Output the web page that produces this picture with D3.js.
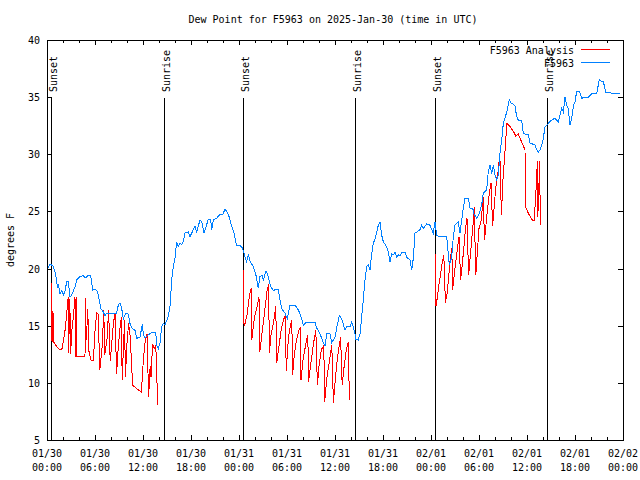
<!DOCTYPE html>
<html>
<head>
<meta charset="utf-8">
<script src="https://cdn.jsdelivr.net/npm/d3@7"></script>
<style>
  body { margin: 0; background: #fff; }
  svg { display: block; }
  text { font-family: "DejaVu Sans Mono", "Liberation Mono", monospace; font-size: 10px; fill: #000; }
</style>
</head>
<body>
<svg id="chart" width="640" height="480"></svg>
<script>
// ---- DATA ----
const titleText = "Dew Point for F5963 on 2025-Jan-30 (time in UTC)";
const yLabel = "degrees F";
const yTicks = [5, 10, 15, 20, 25, 30, 35, 40];
// hours since 01/30 00:00 UTC
const xMajorTicks = [0, 6, 12, 18, 24, 30, 36, 42, 48, 54, 60, 66, 72];
const xDateLabels = ["01/30","01/30","01/30","01/30","01/31","01/31","01/31","01/31","02/01","02/01","02/01","02/01","02/02"];
const xTimeLabels = ["00:00","06:00","12:00","18:00","00:00","06:00","12:00","18:00","00:00","06:00","12:00","18:00","00:00"];
const eventHours = [0.5, 14.7, 24.5, 38.5, 48.5, 62.5];
const eventLabels = ["Sunset", "Sunrise", "Sunset", "Sunrise", "Sunset", "Sunrise"];
const seriesNames = ["F5963 Analysis", "F5963"];

// observed dew point (blue): [hour, degF]
const observed = [
  [0.16,20.1],[0.375,20.4],[0.79,20.2],[1.0,19.7],[1.21,19.0],[1.29,18.3],[1.41,18.6],[1.625,17.8],[1.84,18.1],
  [2.04,17.7],[2.25,18.0],[2.46,18.85],[2.66,18.85],[2.875,17.5],[3.09,17.7],[3.5,18.4],[3.71,19.0],[4.125,19.3],
  [4.54,19.4],[4.75,19.15],[5.16,19.4],[5.46,19.4],[5.71,18.1],[6.0,18.2],[6.29,18.0],[6.54,17.25],[6.71,16.5],
  [6.96,16.3],[7.25,15.9],[7.46,16.1],[8.71,16.1],[8.91,16.8],[9.125,17.0],[9.34,16.5],[9.54,15.6],[9.875,16.1],
  [10.16,16.0],[10.375,15.2],[10.59,14.8],[11.0,14.6],[11.21,13.9],[11.625,14.0],[11.91,15.1],[12.04,14.3],
  [12.25,13.9],[12.66,14.2],[13.09,14.4],[13.59,14.4],[13.71,13.3],[13.91,13.0],[14.125,13.5],[14.34,14.9],
  [14.54,15.2],[14.75,15.1],[15.16,15.8],[15.375,16.7],[15.59,19.0],[15.79,20.2],[16.0,20.9],[16.21,22.35],
  [16.41,21.9],[16.625,22.2],[16.84,22.1],[17.04,22.35],[17.25,23.1],[17.66,23.2],[17.875,22.8],[18.29,23.4],
  [18.5,23.7],[18.71,23.2],[19.125,24.25],[19.34,24.1],[19.625,23.1],[20.16,24.3],[20.46,24.25],[20.59,23.4],
  [20.79,24.25],[21.21,24.4],[21.625,24.75],[21.96,24.7],[22.25,25.2],[22.46,25.0],[22.79,24.5],[23.09,23.7],
  [23.375,23.1],[23.71,22.0],[24.125,22.0],[24.34,21.9],[24.54,21.6],[24.75,21.0],[24.96,20.6],[25.16,21.2],
  [25.46,20.5],[25.79,20.2],[26.125,19.4],[26.41,18.3],[26.625,19.3],[26.91,19.4],[27.04,19.0],[27.375,19.8],
  [27.66,19.3],[27.96,18.4],[28.29,18.1],[28.91,18.2],[29.125,17.25],[29.34,16.5],[29.75,16.1],[30.04,15.6],
  [30.375,16.8],[31.0,16.8],[31.41,16.4],[31.71,15.9],[32.04,15.05],[32.375,15.3],[33.5,15.3],[33.71,14.8],
  [34.125,14.3],[34.54,13.5],[34.75,13.2],[34.96,14.3],[35.375,14.3],[35.59,13.5],[36.0,14.0],[36.21,14.8],
  [36.54,15.9],[36.84,15.6],[37.25,14.6],[37.46,14.9],[37.875,14.9],[38.09,15.3],[38.29,14.9],[38.5,14.3],
  [38.625,13.8],[38.91,13.75],[39.125,14.3],[39.34,15.8],[39.54,17.3],[39.75,19.0],[39.96,20.2],[40.16,20.3],
  [40.375,19.9],[40.59,21.3],[40.79,22.2],[41.0,22.6],[41.21,23.1],[41.41,23.8],[41.625,24.1],[41.84,22.9],
  [42.04,22.35],[42.46,21.9],[42.66,21.5],[42.875,20.6],[43.09,21.3],[43.29,21.2],[43.5,21.4],[43.71,21.0],
  [43.91,21.2],[44.125,21.1],[44.34,21.4],[44.75,21.4],[44.96,21.0],[45.375,20.75],[45.59,19.9],[45.79,20.9],
  [46.0,23.1],[46.21,23.2],[46.625,23.4],[46.84,23.8],[47.04,23.5],[47.46,23.9],[47.875,23.8],[48.09,23.4],
  [48.29,23.1],[48.5,24.1],[48.71,22.9],[48.91,22.85],[49.96,22.8],[50.16,21.3],[50.29,20.3],[50.59,21.0],
  [50.79,22.8],[51.0,23.8],[51.41,24.1],[51.625,23.1],[51.84,24.25],[52.04,25.3],[52.25,26.15],[52.66,26.15],
  [52.875,25.3],[53.21,25.3],[53.375,24.8],[53.71,24.4],[54.04,24.8],[54.34,25.6],[54.54,26.6],[54.96,26.9],
  [55.16,28.5],[55.375,29.05],[55.59,28.3],[55.79,29.05],[56.0,28.2],[56.21,27.75],[56.41,28.2],[56.625,30.1],
  [56.84,31.25],[57.04,32.7],[57.25,33.15],[57.54,33.9],[57.79,34.75],[58.0,34.5],[58.29,34.4],[58.5,34.2],
  [58.71,33.3],[58.91,33.0],[59.34,33.0],[59.54,31.8],[60.16,31.7],[60.375,31.0],[61.0,30.8],[61.21,30.4],
  [61.41,30.2],[61.625,30.4],[61.84,30.8],[62.04,31.4],[62.25,32.4],[62.66,32.7],[63.09,33.0],[63.5,33.15],
  [63.91,32.85],[64.34,34.0],[64.54,33.7],[64.75,35.0],[64.96,34.3],[65.16,34.0],[65.375,32.55],[65.59,33.15],
  [65.79,34.2],[66.0,34.6],[66.21,35.5],[66.54,35.5],[66.84,34.9],[67.25,35.0],[67.66,35.0],[68.09,35.3],
  [68.71,35.3],[69.04,36.55],[69.34,36.35],[69.54,36.35],[69.875,35.4],[71.625,35.3]
];

// analysis dew point (red), night 1: [hour, degF]
const analysisNight1 = [
  [0.55,13.7],[0.6,18.7],[0.65,13.6],[0.75,16.3],[0.8,13.6],[1.2,13.2],[1.6,12.9],[1.85,12.9],[2.1,13.9],
  [2.3,14.8],[2.5,16.4],[2.65,17.5],[2.7,12.6],[2.85,17.3],[2.95,12.5],[3.1,14.5],[3.3,15.8],[3.5,17.5],
  [3.6,12.3],[3.7,17.5],[3.75,12.3],[4.75,12.3],[4.8,17.4],[4.85,13.5],[5.0,15.0],[5.1,16.5],[5.2,12.9],
  [5.5,12.0],[5.8,12.0],[6.0,14.5],[6.2,16.1],[6.4,16.0],[6.6,11.1],[6.9,13.2],[7.1,16.4],[7.2,12.4],
  [7.5,13.8],[7.7,16.4],[7.9,11.9],[8.1,13.5],[8.3,15.2],[8.5,16.1],[8.7,10.8],[8.9,13.0],[9.1,14.6],
  [9.3,15.8],[9.4,10.25],[9.55,13.0],[9.7,15.5],[9.8,10.5],[10.0,13.5],[10.2,15.2],[10.4,14.0],[10.7,9.8],
  [11.2,9.5],[11.8,9.2],[12.0,11.5],[12.2,13.3],[12.5,14.3],[12.7,8.8],[12.9,11.5],[13.0,10.5],[13.2,13.4],
  [13.4,13.0],[13.6,13.3],[13.75,10.0],[13.85,8.05]
];
// night 2
const analysisNight2 = [
  [24.5,19.9],[24.52,15.4],[24.7,15.05],[25.0,15.9],[25.2,17.1],[25.4,18.0],[25.55,18.3],[25.6,13.75],
  [25.8,15.05],[26.0,15.9],[26.3,16.8],[26.5,17.5],[26.6,12.7],[26.9,14.5],[27.2,16.2],[27.5,18.0],[27.7,18.6],
  [27.8,12.6],[28.0,14.2],[28.3,15.2],[28.6,16.7],[28.7,11.7],[29.0,13.2],[29.3,14.8],[29.6,15.6],[29.8,15.9],
  [29.9,11.0],[30.1,13.2],[30.3,14.6],[30.6,15.5],[30.7,10.7],[30.9,12.4],[31.2,13.8],[31.5,14.6],[31.7,14.9],
  [31.75,10.25],[32.0,12.0],[32.3,13.2],[32.6,14.2],[32.7,10.1],[33.0,11.8],[33.3,13.4],[33.6,14.6],[33.8,9.8],
  [34.0,11.5],[34.3,12.9],[34.6,13.3],[34.7,8.35],[35.0,10.5],[35.3,11.9],[35.6,13.3],[35.8,8.2],[36.0,10.0],
  [36.3,12.2],[36.7,14.0],[36.9,9.8],[37.1,11.2],[37.4,12.8],[37.65,13.6],[37.8,8.5]
];
// night 3
const analysisNight3 = [
  [48.6,21.3],[48.62,16.7],[48.8,17.5],[49.0,18.6],[49.2,19.5],[49.4,20.5],[49.6,21.2],[49.8,17.0],[50.0,17.8],
  [50.2,19.2],[50.4,20.8],[50.6,21.8],[50.7,18.1],[50.9,19.4],[51.1,20.6],[51.3,21.7],[51.5,22.8],[51.7,19.0],
  [51.9,20.3],[52.1,21.8],[52.3,23.4],[52.5,24.4],[52.7,19.4],[52.9,21.0],[53.1,22.6],[53.3,24.2],[53.4,25.4],
  [53.6,19.4],[53.8,21.5],[54.0,23.5],[54.3,24.3],[54.5,26.3],[54.7,22.5],[55.0,24.8],[55.3,26.6],[55.5,27.5],
  [55.7,23.7],[56.0,26.3],[56.2,27.8],[56.4,28.5],[56.6,30.1],[56.8,24.7],[57.0,27.8],[57.2,29.8],[57.4,31.8],
  [57.5,32.7],[57.9,32.4],[58.3,32.0],[58.6,31.6],[58.9,31.8],[59.2,31.3],[59.5,30.8],[59.75,30.4],[59.8,25.4],
  [60.2,24.8],[60.7,24.2],[60.9,24.2],[61.1,26.5],[61.3,29.4],[61.35,24.5],[61.6,29.4],[61.65,23.8]
];

// ---- CHART ----
const svg = d3.select("#chart");
const mLeft = 47, mRight = 623, mTop = 40, mBottom = 440;
const x = d3.scaleLinear().domain([0, 72]).range([mLeft, mRight]);
const y = d3.scaleLinear().domain([5, 40]).range([mBottom, mTop]);
const red = "#ff0000", blue = "#0080ff";

// title
svg.append("text").attr("x", 333).attr("y", 23).attr("text-anchor", "middle").text(titleText);
// y label
svg.append("text").attr("transform", "translate(14,240) rotate(-90)").attr("text-anchor", "middle").text(yLabel);

// axes
const gx = svg.append("g").attr("transform", `translate(0,${mBottom})`)
  .call(d3.axisBottom(x).tickValues(d3.range(0, 73, 2)).tickSize(-3).tickFormat(""));
const gx2 = svg.append("g").attr("transform", `translate(0,${mBottom})`)
  .call(d3.axisBottom(x).tickValues(xMajorTicks).tickSize(-5).tickFormat(""));
const gxt = svg.append("g").attr("transform", `translate(0,${mTop})`)
  .call(d3.axisTop(x).tickValues(d3.range(0, 73, 2)).tickSize(-3).tickFormat(""));
const gxt2 = svg.append("g").attr("transform", `translate(0,${mTop})`)
  .call(d3.axisTop(x).tickValues(xMajorTicks).tickSize(-5).tickFormat(""));
const gy = svg.append("g").attr("transform", `translate(${mLeft},0)`)
  .call(d3.axisLeft(y).tickValues(yTicks).tickSize(-5).tickFormat(""));
const gyr = svg.append("g").attr("transform", `translate(${mRight},0)`)
  .call(d3.axisRight(y).tickValues(yTicks).tickSize(-5).tickFormat(""));
[gx, gx2, gxt, gxt2, gy, gyr].forEach(g => {
  g.select(".domain").remove();
  g.selectAll("line").attr("stroke", "#000").attr("shape-rendering", "crispEdges");
});

// tick labels
svg.append("g").selectAll("text").data(yTicks).join("text")
  .attr("x", mLeft - 7).attr("y", d => y(d) + 4).attr("text-anchor", "end").text(d => d);
const xl = svg.append("g").selectAll("g").data(xMajorTicks).join("g");
xl.append("text").attr("x", d => x(d)).attr("y", 457).attr("text-anchor", "middle").text((d, i) => xDateLabels[i]);
xl.append("text").attr("x", d => x(d)).attr("y", 471).attr("text-anchor", "middle").text((d, i) => xTimeLabels[i]);

// border
svg.append("rect").attr("x", mLeft).attr("y", mTop).attr("width", mRight - mLeft).attr("height", mBottom - mTop)
  .attr("fill", "none").attr("stroke", "#000").attr("shape-rendering", "crispEdges");

// sunrise/sunset lines
const ev = svg.append("g");
ev.selectAll("line").data(eventHours).join("line")
  .attr("x1", d => x(d)).attr("x2", d => x(d)).attr("y1", 98).attr("y2", mBottom)
  .attr("stroke", "#000").attr("shape-rendering", "crispEdges");
ev.selectAll("text").data(eventHours).join("text")
  .attr("transform", d => `translate(${x(d) + 5.5},92) rotate(-90)`)
  .attr("text-anchor", "start").text((d, i) => eventLabels[i]);

// series
const line = d3.line().x(d => x(d[0])).y(d => y(d[1]));
[analysisNight1, analysisNight2, analysisNight3].forEach(seg => {
  svg.append("path").datum(seg).attr("d", line).attr("fill", "none").attr("stroke", red)
    .attr("stroke-width", 1).attr("shape-rendering", "crispEdges");
});
svg.append("path").datum(observed).attr("d", line).attr("fill", "none").attr("stroke", blue)
  .attr("stroke-width", 1).attr("shape-rendering", "crispEdges");

// legend
const legend = svg.append("g");
legend.selectAll("text").data(seriesNames).join("text")
  .attr("x", 574).attr("y", (d, i) => 54 + i * 13).attr("text-anchor", "end").text(d => d);
legend.selectAll("line").data(seriesNames).join("line")
  .attr("x1", 581).attr("x2", 610).attr("y1", (d, i) => 49 + i * 13).attr("y2", (d, i) => 49 + i * 13)
  .attr("stroke", (d, i) => i === 0 ? red : blue).attr("shape-rendering", "crispEdges");
</script>
</body>
</html>
